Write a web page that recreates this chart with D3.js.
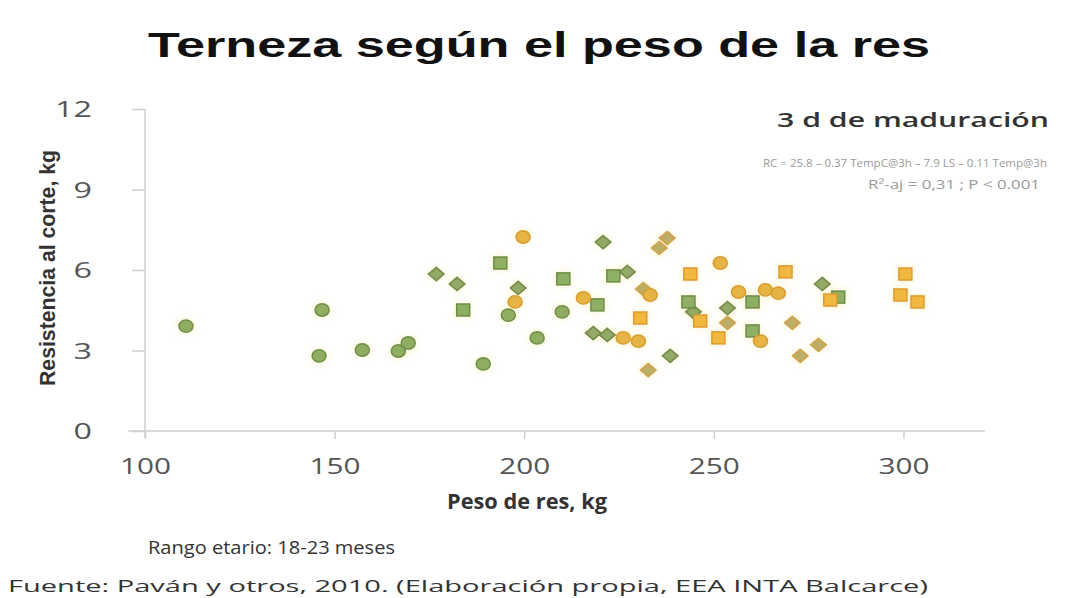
<!DOCTYPE html>
<html><head><meta charset="utf-8">
<script src="https://cdn.jsdelivr.net/npm/d3@7"></script>
<style>html,body{margin:0;padding:0;background:#fff;}svg{display:block;}</style>
</head><body>
<script>
// ---- data (peso de res kg, resistencia al corte kg) ----
const greenCircles = [[110.8,3.91],[146.7,4.51],[145.9,2.80],[157.3,3.02],[166.8,2.98],[169.4,3.28],[189.2,2.50],[195.8,4.32],[203.4,3.47],[210.0,4.44]];
const greenDiamonds = [[176.8,5.85],[182.3,5.48],[198.4,5.33],[220.8,7.04],[227.2,5.93],[238.5,2.80],[253.6,4.58],[218.2,3.65],[221.9,3.58],[244.6,4.44],[278.6,5.48]];
const greenSquares = [[193.7,6.26],[183.9,4.51],[210.3,5.67],[223.5,5.78],[219.3,4.70],[243.3,4.81],[260.2,4.81],[260.2,3.73],[282.8,4.99]];
const orangeCircles = [[199.7,7.23],[197.6,4.81],[215.6,4.96],[233.2,5.07],[226.1,3.47],[230.1,3.35],[251.7,6.26],[256.5,5.18],[263.6,5.26],[267.0,5.14],[262.3,3.35]];
const oliveDiamonds = [[237.7,7.19],[235.6,6.82],[231.4,5.29],[232.7,2.27],[253.6,4.03],[270.7,4.03],[277.6,3.21],[272.8,2.80]];
const orangeSquares = [[230.6,4.21],[243.8,5.85],[246.4,4.10],[251.2,3.47],[268.9,5.93],[280.7,4.88],[300.5,5.85],[299.2,5.07],[303.7,4.81]];
const xTicks = [100,150,200,250,300];
const yTicks = [0,3,6,9,12];
const xDomain = [100, 321.5];
const yDomain = [0, 12];

const W = 1069, H = 598;
const svg = d3.select("body").append("svg").attr("width", W).attr("height", H);

const x = d3.scaleLinear().domain(xDomain).range([145, 985]);
const y = d3.scaleLinear().domain(yDomain).range([431, 109]);

// title
svg.append("text").attr("x", 148).attr("y", 57)
  .attr("textLength", 782).attr("lengthAdjust", "spacingAndGlyphs")
  .style("font-family", "'Liberation Sans', Arial, sans-serif").style("font-weight", "bold")
  .style("font-size", "35px").attr("fill", "#111").text("Terneza según el peso de la res");

// axes
const axisColor = "#cfcfcf";
const gy = svg.append("g").attr("transform", "translate(145,0)")
  .call(d3.axisLeft(y).tickValues(yTicks).tickSize(13).tickSizeOuter(0).tickPadding(40));
const gx = svg.append("g").attr("transform", "translate(0,431)")
  .call(d3.axisBottom(x).tickValues(xTicks).tickSize(8).tickSizeOuter(0).tickPadding(19));
[gy, gx].forEach(g => {
  g.select(".domain").attr("stroke", axisColor).attr("stroke-width", 1.5);
  g.selectAll(".tick line").attr("stroke", axisColor).attr("stroke-width", 1.5);
  g.selectAll(".tick text").attr("fill", "#555")
    .style("font-family", "'Open Sans', 'DejaVu Sans', sans-serif").style("font-size", "22px");
});
gy.select(".domain").attr("d", `M0,${y(12)}V438`);
gx.select(".domain").attr("d", `M128,0H${x(xDomain[1])}`);
gx.selectAll(".tick text").attr("textLength", 51).attr("lengthAdjust", "spacingAndGlyphs");
gy.selectAll(".tick text").attr("dy", "0.35em")
  .attr("textLength", d => String(d).length * 18.5).attr("lengthAdjust", "spacingAndGlyphs");

// axis titles
svg.append("text").attr("transform", "translate(55,268) rotate(-90)").attr("text-anchor", "middle")
  .attr("textLength", 236).attr("lengthAdjust", "spacingAndGlyphs")
  .style("font-family", "'Liberation Sans Narrow', 'Liberation Sans', sans-serif").style("font-weight", "bold")
  .style("font-size", "22px").attr("fill", "#333").text("Resistencia al corte, kg");
svg.append("text").attr("x", 527).attr("y", 509).attr("text-anchor", "middle")
  .attr("textLength", 160).attr("lengthAdjust", "spacingAndGlyphs")
  .style("font-family", "'Open Sans', sans-serif").style("font-weight", "bold")
  .style("font-size", "21px").attr("fill", "#333").text("Peso de res, kg");

// annotations
svg.append("text").attr("x", 1049).attr("y", 127).attr("text-anchor", "end")
  .attr("textLength", 272).attr("lengthAdjust", "spacingAndGlyphs")
  .style("font-family", "'Open Sans', sans-serif").style("font-weight", "600")
  .style("font-size", "20px").attr("fill", "#333").text("3 d de maduración");
svg.append("text").attr("x", 1047).attr("y", 167).attr("text-anchor", "end")
  .attr("textLength", 284).attr("lengthAdjust", "spacingAndGlyphs")
  .style("font-family", "'Open Sans', sans-serif")
  .style("font-size", "11.2px").attr("fill", "#9a9a9a").text("RC = 25.8 – 0.37 TempC@3h – 7.9 LS – 0.11 Temp@3h");
svg.append("text").attr("x", 1040).attr("y", 189).attr("text-anchor", "end")
  .attr("textLength", 172).attr("lengthAdjust", "spacingAndGlyphs")
  .style("font-family", "'Open Sans', sans-serif")
  .style("font-size", "12.5px").attr("fill", "#9a9a9a").text("R²-aj = 0,31 ; P < 0.001");

svg.append("text").attr("x", 148).attr("y", 554)
  .attr("textLength", 247).attr("lengthAdjust", "spacingAndGlyphs")
  .style("font-family", "'Open Sans', sans-serif")
  .style("font-size", "18px").attr("fill", "#333").text("Rango etario: 18-23 meses");
svg.append("text").attr("x", 8).attr("y", 592)
  .attr("textLength", 920).attr("lengthAdjust", "spacingAndGlyphs")
  .style("font-family", "'Open Sans', sans-serif")
  .style("font-size", "17px").attr("fill", "#333").text("Fuente: Paván y otros, 2010. (Elaboración propia, EEA INTA Balcarce)");

// markers
const series = [
  {data: greenCircles, shape: "circle", fill: "#8fae62", stroke: "#6f8e48"},
  {data: greenDiamonds, shape: "diamond", fill: "#93aa66", stroke: "#72894a"},
  {data: greenSquares, shape: "square", fill: "#8fb064", stroke: "#6c8c46"},
  {data: oliveDiamonds, shape: "diamond", fill: "#bcae66", stroke: "#d2a24a"},
  {data: orangeCircles, shape: "circle", fill: "#e6b444", stroke: "#d89c30"},
  {data: orangeSquares, shape: "square", fill: "#f0b83e", stroke: "#e09a2e"}
];
const defs = svg.append("defs");
defs.append("filter").attr("id", "glow").attr("x", "-60%").attr("y", "-60%").attr("width", "220%").attr("height", "220%")
  .append("feGaussianBlur").attr("stdDeviation", 3);
const gm = svg.append("g");
series.forEach(s => {
  s.data.forEach(([vx, vy]) => {
    const cx = x(vx), cy = y(vy);
    const addShape = (g, sz) => {
      if (s.shape === "circle") return g.append("ellipse").attr("cx", cx).attr("cy", cy).attr("rx", sz * 1.05).attr("ry", sz * 0.92);
      if (s.shape === "square") return g.append("rect").attr("x", cx - sz).attr("y", cy - sz * 0.92).attr("width", sz * 2).attr("height", sz * 1.84);
      return g.append("path").attr("d", `M${cx},${cy - sz * 1.05}L${cx + sz * 1.2},${cy}L${cx},${cy + sz * 1.05}L${cx - sz * 1.2},${cy}Z`);
    };
    addShape(gm, 9).attr("fill", "#fbf1c0").attr("opacity", 0.6).attr("filter", "url(#glow)");
  });
});
series.forEach(s => {
  s.data.forEach(([vx, vy]) => {
    const cx = x(vx), cy = y(vy), sz = 6.5;
    if (s.shape === "circle") gm.append("ellipse").attr("cx", cx).attr("cy", cy).attr("rx", sz * 1.08).attr("ry", sz * 0.95)
      .attr("fill", s.fill).attr("stroke", s.stroke).attr("stroke-width", 1.5);
    else if (s.shape === "square") gm.append("rect").attr("x", cx - sz).attr("y", cy - sz * 0.92).attr("width", sz * 2).attr("height", sz * 1.84)
      .attr("fill", s.fill).attr("stroke", s.stroke).attr("stroke-width", 1.5);
    else gm.append("path").attr("d", `M${cx},${cy - sz * 1.02}L${cx + sz * 1.2},${cy}L${cx},${cy + sz * 1.02}L${cx - sz * 1.2},${cy}Z`)
      .attr("fill", s.fill).attr("stroke", s.stroke).attr("stroke-width", 1.5);
  });
});
</script>
</body></html>
